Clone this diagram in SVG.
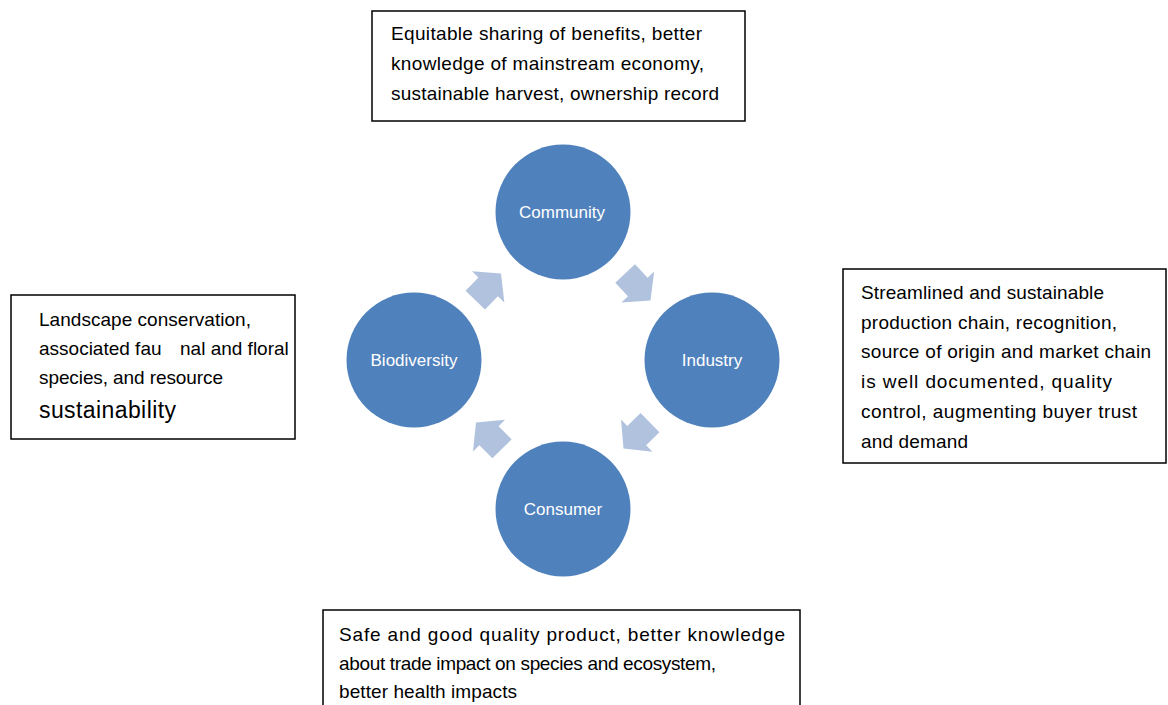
<svg xmlns="http://www.w3.org/2000/svg" width="1168" height="705" viewBox="0 0 1168 705">
<style>
.box{fill:#ffffff;stroke:#000000;stroke-width:1.5}
.t{font-family:"Liberation Sans",Arial,sans-serif;font-size:19px;fill:#000000}
.big{font-size:23px}
.node{fill:#4f81bd}
.lbl{font-family:"Liberation Sans",Arial,sans-serif;font-size:17px;fill:#ffffff;text-anchor:middle}
.arr{fill:#b1c2de}
</style>
<defs>
<polygon id="arrow" points="-37,-13.5 -18.5,-13.5 -18.5,-22.5 0,0 -18.5,22.5 -18.5,13.5 -37,13.5"/>
</defs>
<rect width="1168" height="705" fill="#ffffff"/>
<g id="box-community">
<rect class="box" x="372" y="11" width="373" height="110"/>
<text class="t" x="391" y="40" textLength="311" lengthAdjust="spacing">Equitable sharing of benefits, better</text>
<text class="t" x="391" y="70" textLength="313" lengthAdjust="spacing">knowledge of mainstream economy,</text>
<text class="t" x="391" y="100" textLength="328" lengthAdjust="spacing">sustainable harvest, ownership record</text>
</g>
<g id="box-biodiversity">
<rect class="box" x="11" y="295" width="284" height="144"/>
<text class="t" x="39" y="326" textLength="212" lengthAdjust="spacing">Landscape conservation,</text>
<text class="t" x="39" y="355" xml:space="preserve">associated fau   <tspan x="180">nal and floral</tspan></text>
<text class="t" x="39" y="384" textLength="184" lengthAdjust="spacing">species, and resource</text>
<text class="t big" x="39" y="418" textLength="137" lengthAdjust="spacing">sustainability</text>
</g>
<g id="box-industry">
<rect class="box" x="843" y="269" width="323" height="194"/>
<text class="t" x="861" y="299" textLength="243" lengthAdjust="spacing">Streamlined and sustainable</text>
<text class="t" x="861" y="329" textLength="256" lengthAdjust="spacing">production chain, recognition,</text>
<text class="t" x="861" y="358" textLength="290" lengthAdjust="spacing">source of origin and market chain</text>
<text class="t" x="861" y="388" textLength="251" lengthAdjust="spacing">is well documented, quality</text>
<text class="t" x="861" y="418" textLength="276" lengthAdjust="spacing">control, augmenting buyer trust</text>
<text class="t" x="861" y="448" textLength="107" lengthAdjust="spacing">and demand</text>
</g>
<g id="box-consumer">
<rect class="box" x="323" y="610" width="477" height="120"/>
<text class="t" x="339" y="641" textLength="446" lengthAdjust="spacing">Safe and good quality product, better knowledge</text>
<text class="t" x="339" y="670" textLength="377" lengthAdjust="spacing">about trade impact on species and ecosystem,</text>
<text class="t" x="339" y="698" textLength="178" lengthAdjust="spacing">better health impacts</text>
</g>
<g id="community">
<circle class="node" cx="563" cy="212" r="67.5"/>
<text class="lbl" x="562" y="218">Community</text>
</g>
<g id="industry">
<circle class="node" cx="712" cy="360" r="67.5"/>
<text class="lbl" x="712" y="366">Industry</text>
</g>
<g id="consumer">
<circle class="node" cx="563" cy="509" r="67.5"/>
<text class="lbl" x="563" y="515">Consumer</text>
</g>
<g id="biodiversity">
<circle class="node" cx="414" cy="360" r="67.5"/>
<text class="lbl" x="414" y="366">Biodiversity</text>
</g>
<g id="connectors">
<use href="#arrow" class="arr" transform="translate(501,273.5) rotate(-46)"/>
<use href="#arrow" class="arr" transform="translate(650.5,300.5) rotate(46.7)"/>
<use href="#arrow" class="arr" transform="translate(623.5,448.5) rotate(135.7)"/>
<use href="#arrow" class="arr" transform="translate(476,422.5) rotate(225.4)"/>
</g>
</svg>
